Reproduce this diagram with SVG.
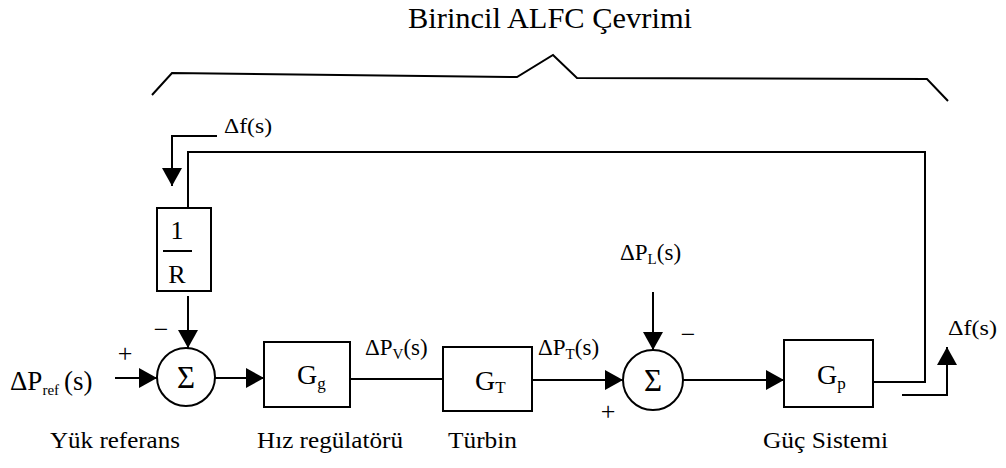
<svg xmlns="http://www.w3.org/2000/svg" width="1006" height="468" viewBox="0 0 1006 468" font-family="'Liberation Serif','Times New Roman',serif">
<style>
text{font-family:"Liberation Serif","Times New Roman",serif;fill:#000}
.ln{fill:none;stroke:#000;stroke-width:2}
.box{fill:#fff;stroke:#000;stroke-width:2}
.lbl{font-size:24px}
.sig{font-size:23px}
.sub{font-size:15px}
.g{font-size:28px}
.gs{font-size:17px}
.sg{font-size:22px}
.sign{font-size:26px}
.sum{font-size:31px}
</style>
<defs>
<marker id="ah" markerUnits="userSpaceOnUse" markerWidth="19" markerHeight="20" refX="18" refY="10" orient="auto">
<path d="M0,0 L18,10 L0,20 Z" fill="#000"/>
</marker>
</defs>
<rect width="1006" height="468" fill="#fff"/>
<g id="title">
<text x="408" y="28" font-size="29" textLength="284" lengthAdjust="spacingAndGlyphs">Birincil ALFC Çevrimi</text>
<path class="ln" stroke-width="2.6" d="M152,95 L172,73 L517,77 L553,55 L577,78 L927,79 L948,101"/>
</g>
<g id="connectors">
<path class="ln" d="M873,382 L925,382 L925,152 L188,152 L188,208"/>
<path class="ln" d="M217,136 L172,136 L172,186" marker-end="url(#ah)"/>
<path class="ln" d="M188,296 L188,348" marker-end="url(#ah)"/>
<path class="ln" d="M115,378 L157,378" marker-end="url(#ah)"/>
<path class="ln" d="M215,378 L264,378" marker-end="url(#ah)"/>
<path class="ln" d="M350,379 L443,379"/>
<path class="ln" d="M532,380 L623,380" marker-end="url(#ah)"/>
<path class="ln" d="M653,292 L653,350" marker-end="url(#ah)"/>
<path class="ln" d="M683,380 L784,380" marker-end="url(#ah)"/>
<path class="ln" d="M902,395 L947,395 L947,347" marker-end="url(#ah)"/>
</g>
<g id="feedback-gain">
<rect class="box" x="157" y="208" width="54" height="83"/>
<text x="177" y="239" font-size="26" text-anchor="middle">1</text>
<line x1="163" y1="251" x2="192" y2="251" stroke="#000" stroke-width="2"/>
<text x="177" y="283" font-size="26" text-anchor="middle">R</text>
</g>
<g id="sum1">
<circle class="box" cx="186" cy="377" r="29"/>
<text x="186" y="388" class="sum" text-anchor="middle">Σ</text>
</g>
<g id="governor">
<rect class="box" x="264" y="342" width="86" height="65"/>
<text x="297" y="384" class="g">G<tspan class="gs" dy="5">g</tspan></text>
</g>
<g id="turbine">
<rect class="box" x="443" y="347" width="89" height="64"/>
<text x="475" y="390" class="g">G<tspan class="gs" dy="3">T</tspan></text>
</g>
<g id="sum2">
<circle class="box" cx="653" cy="380" r="30"/>
<text x="653" y="391" class="sum" text-anchor="middle">Σ</text>
</g>
<g id="power-system">
<rect class="box" x="784" y="340" width="89" height="67"/>
<text x="817" y="384" class="g">G<tspan class="gs" dy="5">p</tspan></text>
</g>
<g id="labels">
<text x="224" y="133" class="sg" textLength="48" lengthAdjust="spacingAndGlyphs">Δf(s)</text>
<text x="948" y="335" class="sg" textLength="49" lengthAdjust="spacingAndGlyphs">Δf(s)</text>
<text x="10" y="390" font-size="27">ΔP<tspan class="sub" dy="5">ref</tspan><tspan dy="-5" dx="5">(s)</tspan></text>
<text x="365" y="355" class="sig">ΔP<tspan class="sub" dy="4">V</tspan><tspan dy="-4">(s)</tspan></text>
<text x="538" y="355" class="sig">ΔP<tspan class="sub" dy="4">T</tspan><tspan dy="-4">(s)</tspan></text>
<text x="620" y="260" class="sig">ΔP<tspan class="sub" dy="4">L</tspan><tspan dy="-4">(s)</tspan></text>
<text x="161" y="338" class="sign" text-anchor="middle">−</text>
<text x="125" y="362" class="sign" text-anchor="middle">+</text>
<text x="688" y="343" class="sign" text-anchor="middle">−</text>
<text x="608" y="420" class="sign" text-anchor="middle">+</text>
<text x="50" y="448" class="lbl" textLength="130" lengthAdjust="spacingAndGlyphs">Yük referans</text>
<text x="257" y="448" class="lbl" textLength="146" lengthAdjust="spacingAndGlyphs">Hız regülatörü</text>
<text x="448" y="448" class="lbl" textLength="69" lengthAdjust="spacingAndGlyphs">Türbin</text>
<text x="763" y="448" class="lbl" textLength="125" lengthAdjust="spacingAndGlyphs">Güç Sistemi</text>
</g>
</svg>
